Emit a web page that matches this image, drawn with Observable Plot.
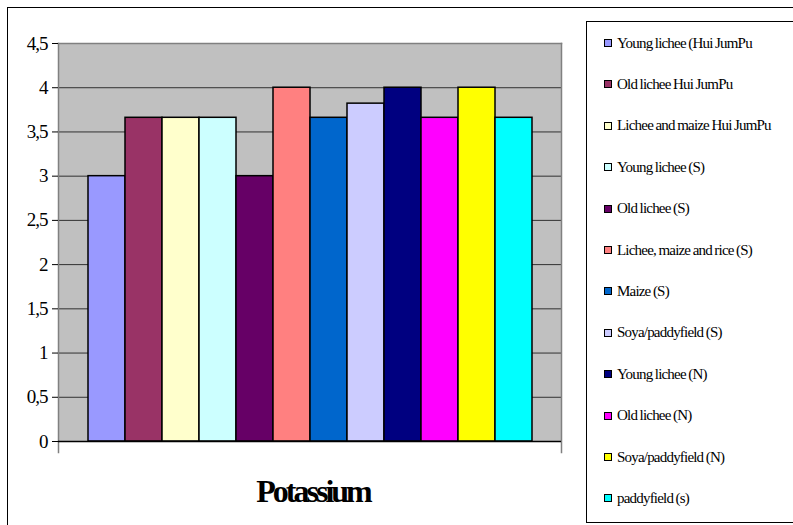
<!DOCTYPE html>
<html>
<head>
<meta charset="utf-8">
<script src="https://cdn.jsdelivr.net/npm/d3@7"></script>
<script src="https://cdn.jsdelivr.net/npm/@observablehq/plot@0.6"></script>
<style>
  html, body { margin: 0; padding: 0; background: #fff; }
  #chart { position: relative; width: 793px; height: 525px; overflow: hidden;
           font-family: "Liberation Serif", "Times New Roman", Times, serif; color: #000; }
  #outer { position: absolute; left: 7px; top: 7px; right: -10px; bottom: -10px;
           border-top: 1.5px solid #000; border-left: 1.5px solid #000; }
  #plot { position: absolute; left: 0; top: 0; }
  #legend { position: absolute; left: 586px; top: 21px; width: 240px; height: 500px;
            border: 1px solid #000; background: #fff; }
  .item { position: absolute; left: 17px; height: 20px; display: flex; align-items: center;
          font-size: 15px; letter-spacing: -0.8px; word-spacing: -0.5px; white-space: nowrap; }
  .sw { width: 6px; height: 6px; border: 1px solid #000; margin-right: 5px; flex: none; }
</style>
</head>
<body>
<div id="chart">
  <div id="outer"></div>
  <div id="plot"></div>
  <div id="legend"></div>
</div>
<script>
// Sampling sites (one bar each)
const series = [
  "Young lichee (Hui JumPu",
  "Old lichee Hui JumPu",
  "Lichee and maize Hui JumPu",
  "Young lichee (S)",
  "Old lichee (S)",
  "Lichee, maize and rice (S)",
  "Maize (S)",
  "Soya/paddyfield (S)",
  "Young lichee (N)",
  "Old lichee (N)",
  "Soya/paddyfield (N)",
  "paddyfield (s)"
];

// Potassium level per site
const potassium = [3, 3.66, 3.66, 3.66, 3, 4, 3.66, 3.82, 4, 3.66, 4, 3.66];

// Fill colour per site
const colors = [
  "#9999FF", "#993366", "#FFFFCC", "#CCFFFF", "#660066", "#FF8080",
  "#0066CC", "#CCCCFF", "#000080", "#FF00FF", "#FFFF00", "#00FFFF"
];

// Value axis ticks
const yTicks = [0, 0.5, 1, 1.5, 2, 2.5, 3, 3.5, 4, 4.5];
const gridTicks = yTicks.filter(t => t > 0 && t < 4.5);

const title = "Potassium";

const fontStack = '"Liberation Serif", "Times New Roman", Times, serif';

const data = series.map((name, i) => ({name, value: potassium[i]}));

const plot = Plot.plot({
  width: 793,
  height: 525,
  marginLeft: 58,
  marginRight: 232,
  marginTop: 43,
  marginBottom: 84,
  style: {
    fontFamily: fontStack,
    background: "transparent",
    color: "#000",
    overflow: "visible"
  },
  x: {domain: series, padding: 0, insetLeft: 28, insetRight: 28, axis: null},
  y: {domain: [0, 4.5], axis: null},
  color: {domain: series, range: colors},
  marks: [
    Plot.frame({fill: "#c0c0c0", stroke: "none"}),
    Plot.gridY(gridTicks, {stroke: "#000", strokeOpacity: 0.75, strokeWidth: 1}),
    Plot.frame({anchor: "top", stroke: "#808080", strokeWidth: 1.5}),
    Plot.frame({anchor: "right", stroke: "#808080", strokeWidth: 1.5, insetBottom: -11}),
    Plot.frame({anchor: "left", stroke: "#808080", strokeWidth: 1.5, insetBottom: -11}),
    Plot.barY(data, {x: "name", y: "value", fill: "name", stroke: "#000", strokeWidth: 1.5}),
    Plot.ruleY([0], {stroke: "#000", strokeWidth: 1.5}),
    Plot.axisY({
      ticks: yTicks,
      label: null,
      tickFormat: d => String(d).replace(".", ","),
      tickSize: 6,
      tickPadding: 5,
      fontSize: 19,
      stroke: "#000"
    }),
    Plot.text([title], {
      frameAnchor: "bottom",
      dy: 50,
      dx: 3,
      lineAnchor: "middle",
      fontSize: 32,
      fontWeight: "bold",
      fill: "#000"
    })
  ]
});

// Condensed lettering for the category title and tick labels
d3.select(plot).selectAll('g[aria-label="text"] text').style("letter-spacing", "-3px");
d3.select(plot).selectAll('g[aria-label="y-axis tick label"] text').style("letter-spacing", "-1px");

document.getElementById("plot").appendChild(plot);

// Legend
const legend = d3.select("#legend");
series.forEach((name, i) => {
  const item = legend.append("div")
    .attr("class", "item")
    .style("top", `${11 + i * 41.4}px`);
  item.append("div").attr("class", "sw").style("background", colors[i]);
  item.append("span").text(name);
});
</script>
</body>
</html>
